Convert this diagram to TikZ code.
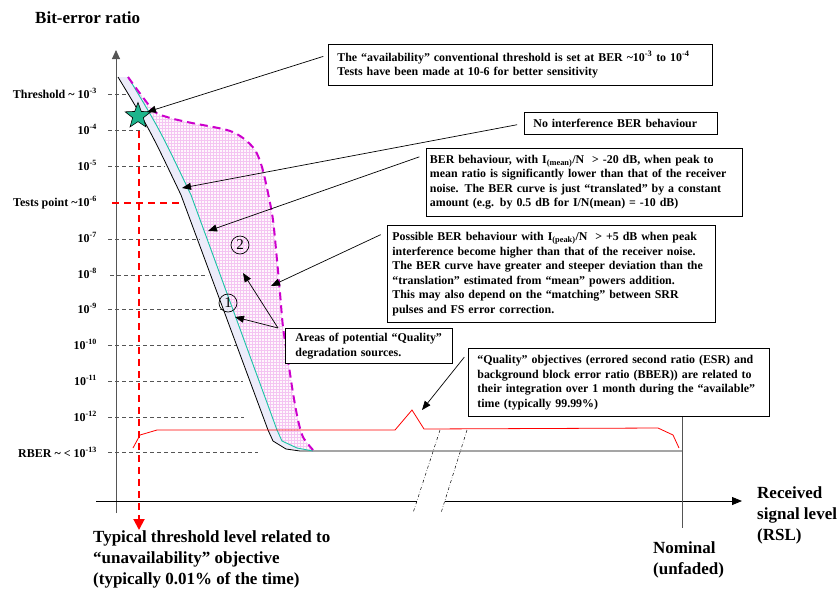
\documentclass[tikz,border=0pt]{standalone}
\usepackage{fontspec}
\setmainfont{Liberation Serif}
\usepackage{tikz}
\usetikzlibrary{arrows.meta,positioning,shapes.geometric,patterns}
\definecolor{CurveTeal}{HTML}{19C3A5}
\definecolor{StarGreen}{HTML}{1DB48C}
\definecolor{DashMagenta}{HTML}{CC00CC}
\definecolor{StripLilac}{HTML}{ECECFA}
\definecolor{HatchPink}{HTML}{F4C4F2}
\definecolor{AxisGray}{HTML}{555555}
\tikzset{%
  callout/.style={draw=black,line width=0.8pt,fill=white,align=left,anchor=north west,
    inner ysep=1pt,execute at begin node={\hyphenpenalty=10000},
    font=\fontsize{11.9}{14.5}\selectfont\bfseries},
  ticklabel/.style={anchor=base east,inner sep=0pt,font=\fontsize{12}{14}\selectfont\bfseries},
  bigtext/.style={anchor=north west,align=left,inner sep=0pt,
    font=\fontsize{17}{21}\selectfont\bfseries},
  tickline/.style={AxisGray,line width=0.7pt,dash pattern=on 4pt off 3pt},
  pointer/.style={-{Triangle[length=9pt,width=7pt]},line width=0.7pt,black},
  reddash/.style={red,line width=2pt,dash pattern=on 7pt off 5pt},
  numcircle/.style={circle,draw,line width=0.7pt,minimum size=18pt,inner sep=0pt,
    font=\fontsize{15}{15}\selectfont}
}

\begin{document}
\begin{tikzpicture}[x=1pt,y=-1pt]
  \useasboundingbox (0,0) rectangle (837,590);

  % areas between the curves
  \fill[StripLilac] (118,77) .. controls (150,130) .. (181,195) -- (268,430) -- (273,441)
    -- (286,449) -- (313,451) -- (297,448) -- (282,441) -- (277,430) -- (191,195)
    .. controls (160,130) .. (128,77) -- cycle;
  \fill[magenta!3] (128,77) -- plot[smooth] coordinates {(128,77) (153,110) (167,117)
    (187,122) (227,130) (243,138) (255,150) (262,167) (268,193) (273,220) (277,260)
    (280,293) (283,327) (288,360) (293,393) (298,420) (303,437) (313,450)}
    -- (297,448) -- (282,441) -- (277,430) -- (191,195) .. controls (160,130) .. (128,77) -- cycle;
  \path[pattern=grid,pattern color=HatchPink] (128,77) -- plot[smooth] coordinates {(128,77)
    (153,110) (167,117) (187,122) (227,130) (243,138) (255,150) (262,167) (268,193)
    (273,220) (277,260) (280,293) (283,327) (288,360) (293,393) (298,420) (303,437) (313,450)}
    -- (297,448) -- (282,441) -- (277,430) -- (191,195) .. controls (160,130) .. (128,77) -- cycle;

  % axes
  \draw[AxisGray,line width=0.9pt,-{Triangle[length=9pt,width=8pt]}] (116,513) -- (116,50);
  \draw[black,line width=0.8pt] (96,501) -- (417,501);
  \draw[black,line width=0.8pt,-{Triangle[length=10pt,width=8pt]}] (445,501) -- (742,501);
  \draw[black,line width=0.5pt,dash dot] (440,430) -- (413,513);
  \draw[black,line width=0.5pt,dash dot] (467,430) -- (441,513);

  % tick lines
  \draw[tickline] (108,94) -- (128,94);
  \draw[tickline] (108,130) -- (143,130);
  \draw[tickline] (108,166) -- (165,166);
  \draw[tickline] (108,239) -- (200,239);
  \draw[tickline] (110,275) -- (208,275);
  \draw[tickline] (108,309) -- (227,309);
  \draw[tickline] (108,345) -- (237,345);
  \draw[tickline] (108,381) -- (243,381);
  \draw[tickline] (108,417) -- (244,417);
  \draw[tickline] (108,452) -- (258,452);

  % BER curves
  \draw[black,line width=0.8pt] (118,77) .. controls (150,130) .. (181,195) -- (268,430)
    -- (273,441) -- (286,449) -- (300,451) -- (682,451);
  \draw[CurveTeal,line width=0.9pt] (128,77) .. controls (160,130) .. (191,195) -- (277,430)
    -- (282,441) -- (297,448) -- (313,451);
  \draw[DashMagenta,line width=2pt,dash pattern=on 8pt off 5pt] plot[smooth] coordinates {(128,77)
    (153,110) (167,117) (187,122) (227,130) (243,138) (255,150) (262,167) (268,193)
    (273,220) (277,260) (280,293) (283,327) (288,360) (293,393) (298,420) (303,437) (313,450)};

  % quality line
  \draw[red,line width=0.8pt] (133,448) -- (140,435) -- (157,430) -- (395,430) -- (412,410)
    -- (424,429) -- (658,428) -- (673,435) -- (679,448);

  % threshold markers
  \draw[reddash] (112,203) -- (183,203);
  \draw[reddash,-{Triangle[length=11pt,width=11pt]}] (139,131) -- (139,530);
  \node[star,star points=5,star point ratio=2.4,minimum size=27pt,inner sep=0pt,
    fill=StarGreen,draw=black,line width=0.6pt] (star) at (138,116) {};

  \node[numcircle] (two) at (240,245) {2};
  \node[numcircle] (one) at (228,303) {1};

  % axis labels
  \node[bigtext] (ytitle) at (35,12) {Bit-error ratio};
  \node[ticklabel] (t3) at (97,98) {Threshold \textasciitilde{} 10\textsuperscript{-3}};
  \node[ticklabel] (t4) at (97,134) {10\textsuperscript{-4}};
  \node[ticklabel] (t5) at (97,170) {10\textsuperscript{-5}};
  \node[ticklabel] (t6) at (97,206) {Tests point \textasciitilde10\textsuperscript{-6}};
  \node[ticklabel] (t7) at (97,242) {10\textsuperscript{-7}};
  \node[ticklabel] (t8) at (97,278) {10\textsuperscript{-8}};
  \node[ticklabel] (t9) at (97,313) {10\textsuperscript{-9}};
  \node[ticklabel] (t10) at (97,349) {10\textsuperscript{-10}};
  \node[ticklabel] (t11) at (97,385) {10\textsuperscript{-11}};
  \node[ticklabel] (t12) at (97,421) {10\textsuperscript{-12}};
  \node[ticklabel] (t13) at (97,457) {RBER \textasciitilde{} < 10\textsuperscript{-13}};

  \node[bigtext] (typical) at (93,530) {Typical threshold level related to\\
    “unavailability” objective\\(typically 0.01\% of the time)};
  \node[bigtext] (rsl) at (757,486) {Received\\signal level\\(RSL)};
  \node[bigtext] (nominal) at (653,541) {Nominal\\(unfaded)};

  % callouts
  \node[callout,inner xsep=9pt,text width=366pt,minimum height=41pt] (avail) at (328,44)
    {The “availability” conventional threshold is set at BER \textasciitilde10\textsuperscript{-3} to 10\textsuperscript{-4}\\
     Tests have been made at 10-6 for better sensitivity};
  \node[callout,inner xsep=9pt,text width=175pt,minimum height=22pt] (noint) at (524,112)
    {No interference BER behaviour};
  \node[callout,inner xsep=3.5pt,text width=309pt,minimum height=68pt] (transl) at (426,148)
    {BER behaviour, with I\textsubscript{(mean)}/N~~> -20 dB, when peak to\\
     mean ratio is significantly lower than that of the receiver\\
     noise. The BER curve is just “translated” by a constant\\
     amount (e.g. by 0.5 dB for I/N(mean) = -10 dB)};
  \node[callout,inner xsep=5pt,text width=318pt,minimum height=97pt] (peak) at (387,225)
    {Possible BER behaviour with I\textsubscript{(peak)}/N~~> +5 dB when peak\\
     interference become higher than that of the receiver noise.\\
     The BER curve have greater and steeper deviation than the\\
     “translation” estimated from “mean” powers addition.\\
     This may also depend on the “matching” between SRR\\
     pulses and FS error correction.};
  \node[callout,inner xsep=10pt,text width=147pt,minimum height=35pt] (areas) at (285,328)
    {Areas of potential “Quality”\\degradation sources.};
  \node[callout,inner xsep=9pt,text width=283pt,minimum height=68pt] (quality) at (468,348)
    {“Quality” objectives (errored second ratio (ESR) and\\
     background block error ratio (BBER)) are related to\\
     their integration over 1 month during the “available”\\
     time (typically 99.99\%)};

  % nominal marker
  \coordinate (nomfoot) at (682,528);
  \draw[AxisGray,line width=0.8pt] (quality.south -| nomfoot) -- (nomfoot);

  % pointers
  \coordinate (availtip) at (147,112);
  \coordinate (nointtip) at (182,188);
  \coordinate (transltip) at (208,231);
  \coordinate (peaktip) at (271,286);
  \coordinate (areatipa) at (243,273);
  \coordinate (areatipb) at (235,317);
  \coordinate (qualitytip) at (422,410);
  \draw[pointer,shorten <=5pt] ([yshift=10pt]avail.west) -- (availtip);
  \draw[pointer,shorten <=7pt] (noint.west) -- (nointtip);
  \draw[pointer,shorten <=7pt] ([yshift=-6.5pt]transl.north west) -- (transltip);
  \draw[pointer,shorten <=7pt] ([yshift=-6.7pt]peak.north west) -- (peaktip);
  \draw[pointer] ([xshift=-7pt]areas.north west) -- (areatipa);
  \draw[pointer] ([xshift=-7pt]areas.north west) -- (areatipb);
  \draw[pointer,shorten <=6pt] ([yshift=-4.5pt]quality.north west) -- (qualitytip);
\end{tikzpicture}
\end{document}
